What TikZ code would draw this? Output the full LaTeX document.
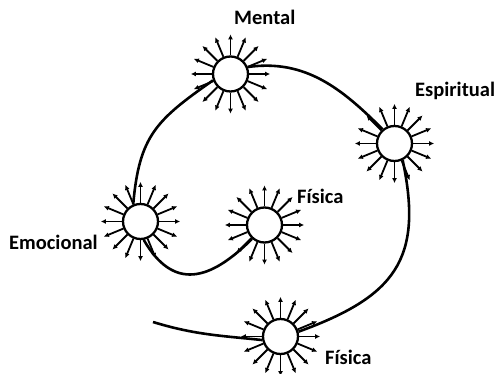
\documentclass[tikz,border=0pt]{standalone}
\usepackage{fontspec}
\setmainfont{Carlito}
\usetikzlibrary{arrows.meta}
\begin{document}
\begin{tikzpicture}[x=1pt,y=1pt,
  sun/.style={circle,draw,line width=2.3pt,fill=white,minimum size=35pt,inner sep=0pt},
  ray/.style={line width=1.8pt,-{Latex[length=5pt,width=5pt]}},
  spiral/.style={line width=2.6pt},
  lbl/.style={anchor=base west,inner sep=0pt,font=\fontsize{20.5}{24}\selectfont\bfseries}]
\useasboundingbox (0,0) rectangle (495,374);
\node[sun] (fb)  at (280.5,37.5) {};
\node[sun] (esp) at (394.5,230.5) {};
\node[sun] (men) at (230.5,300) {};
\node[sun] (emo) at (140.5,152.5) {};
\node[sun] (fa)  at (264.5,149) {};
\coordinate (s) at (153,52);
\draw[spiral] (s) to[out=-17,in=174] (fb.191);
\draw[spiral] (fb.15) to[out=20,in=-78,looseness=1.3] (esp.-64);
\draw[spiral] (esp.130) to[out=135,in=8] (men.22);
\draw[spiral] (men.200) to[out=215,in=85,looseness=1.2] (emo.113);
\draw[spiral] (emo.-80) to[out=-60,in=225,looseness=1.4] (fa.228);
\foreach \n in {fb,esp,men,emo,fa}{
  \foreach \a in {0,22.5,...,337.5}{
    \draw[ray] (\n.center) ++(\a:18.6) -- ++(\a:21);
  }
}
\node[lbl] (lmen) at (234,349.3) {Mental};
\node[lbl] (lesp) at (415,277.3) {Espiritual};
\node[lbl] (lemo) at (9,124) {Emocional};
\node[lbl] (lfa)  at (297,170) {Física};
\node[lbl] (lfb)  at (325,9) {Física};
\end{tikzpicture}
\end{document}
